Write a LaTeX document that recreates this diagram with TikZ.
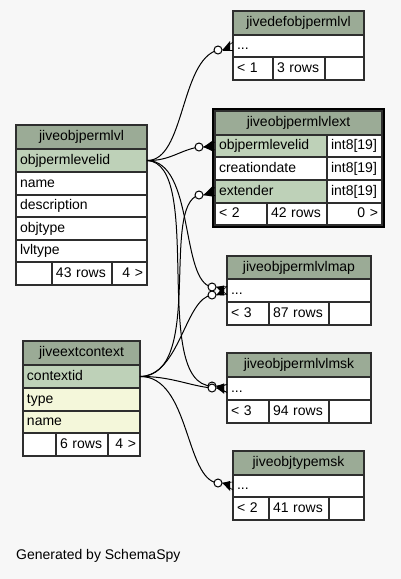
\documentclass[tikz,border=0pt]{standalone}
\usepackage{fontspec}
\setmainfont{Liberation Sans}
\usetikzlibrary{calc}
\definecolor{bg}{HTML}{F7F7F7}
\definecolor{hdr}{HTML}{9BAB96}
\definecolor{keyc}{HTML}{BED1B8}
\definecolor{nullc}{HTML}{F4F7DA}
\definecolor{linec}{HTML}{2E2E2E}
\tikzset{
  cell/.style={draw=linec, line width=1.1pt, fill=white, inner xsep=4pt, inner ysep=0pt,
    outer sep=0pt, anchor=north west, align=left, text height=10pt, text depth=3pt,
    font=\fontsize{14}{16}\selectfont},
  hcell/.style={cell, fill=hdr, align=center},
  kcell/.style={cell, fill=keyc},
  ncell/.style={cell, fill=nullc},
  rcell/.style={cell, align=right},
  edge/.style={line width=1pt, black},
  odot/.style={circle, draw=black, line width=1pt, fill=white, minimum size=8pt, inner sep=0pt},
  crowtip/.style={fill=black},
  crowline/.style={line width=0.6pt, black}
}
\newcommand\tcell[7][cell]{\pgfmathsetmacro\tw{#5-8}\node[#1, minimum width=#5pt, text width=\tw pt, minimum height=#6pt] (#2) at (#3,#4) {#7};}
\begin{document}
\begin{tikzpicture}[x=1pt,y=-1pt]
\useasboundingbox (0,0) rectangle (401,579);
\fill[bg] (0,0) rectangle (401,579);

% jivedefobjpermlvl
\tcell[hcell]{defH}{233}{11}{131}{24}{jivedefobjpermlvl}
\tcell{defR}{233}{35}{131}{22}{...}
\tcell{defF1}{233}{57}{40}{23}{< 1}
\tcell{defF2}{273}{57}{52}{23}{3 rows}
\tcell{defF3}{325}{57}{39}{23}{}

% jiveobjpermlvlext
\draw[line width=3pt, black] (213.5,109.5) rectangle (383.5,226.5);
\tcell[hcell]{extH}{215}{111}{167}{24}{jiveobjpermlvlext}
\tcell[kcell]{extR1}{215}{135}{112}{22}{objpermlevelid}
\tcell{extR1t}{327}{135}{55}{22}{int8[19]}
\tcell{extR2}{215}{157}{112}{23}{creationdate}
\tcell{extR2t}{327}{157}{55}{23}{int8[19]}
\tcell[kcell]{extR3}{215}{180}{112}{23}{extender}
\tcell{extR3t}{327}{180}{55}{23}{int8[19]}
\tcell{extF1}{215}{203}{52}{22}{< 2}
\tcell{extF2}{267}{203}{60}{22}{42 rows}
\tcell[rcell]{extF3}{327}{203}{55}{22}{0 >}

% jiveobjpermlvl
\tcell[hcell]{lvlH}{16}{125}{131}{24}{jiveobjpermlvl}
\tcell[kcell]{lvlR1}{16}{149}{131}{23}{objpermlevelid}
\tcell{lvlR2}{16}{172}{131}{23}{name}
\tcell{lvlR3}{16}{195}{131}{22}{description}
\tcell{lvlR4}{16}{217}{131}{23}{objtype}
\tcell{lvlR5}{16}{240}{131}{22}{lvltype}
\tcell{lvlF1}{16}{262}{36}{23}{}
\tcell{lvlF2}{52}{262}{60}{23}{43 rows}
\tcell[rcell]{lvlF3}{112}{262}{35}{23}{4 >}

% jiveobjpermlvlmap
\tcell[hcell]{mapH}{227}{256}{144}{23}{jiveobjpermlvlmap}
\tcell{mapR}{227}{279}{144}{23}{...}
\tcell{mapF1}{227}{302}{42}{23}{< 3}
\tcell{mapF2}{269}{302}{60}{23}{87 rows}
\tcell{mapF3}{329}{302}{42}{23}{}

% jiveextcontext
\tcell[hcell]{ctxH}{23}{341}{117}{24}{jiveextcontext}
\tcell[kcell]{ctxR1}{23}{365}{117}{23}{contextid}
\tcell[ncell]{ctxR2}{23}{388}{117}{23}{type}
\tcell[ncell]{ctxR3}{23}{411}{117}{22}{name}
\tcell{ctxF1}{23}{433}{33}{23}{}
\tcell{ctxF2}{56}{433}{52}{23}{6 rows}
\tcell[rcell]{ctxF3}{108}{433}{32}{23}{4 >}

% jiveobjpermlvlmsk
\tcell[hcell]{mskH}{227}{353}{144}{24}{jiveobjpermlvlmsk}
\tcell{mskR}{227}{377}{144}{23}{...}
\tcell{mskF1}{227}{400}{42}{23}{< 3}
\tcell{mskF2}{269}{400}{60}{23}{94 rows}
\tcell{mskF3}{329}{400}{42}{23}{}

% jiveobjtypemsk
\tcell[hcell]{typH}{233}{451}{131}{24}{jiveobjtypemsk}
\tcell{typR}{233}{475}{131}{22}{...}
\tcell{typF1}{233}{497}{36}{23}{< 2}
\tcell{typF2}{269}{497}{60}{23}{41 rows}
\tcell{typF3}{329}{497}{35}{23}{}

% connector end points (circles)
\coordinate (o1) at (218,50);
\coordinate (o2) at (199,147);
\coordinate (o3) at (212,287);
\coordinate (o4) at (212,386);
\coordinate (o5) at (199,195);
\coordinate (o6) at (212,295);
\coordinate (o7) at (212,388);
\coordinate (o8) at (218,483);

% edges
\draw[edge] (lvlR1.east) .. controls (185,161) and (180,60) .. (o1);
\draw[edge] (lvlR1.east) .. controls (170,161) and (180,150) .. (o2);
\draw[edge] (lvlR1.east) .. controls (195,161) and (180,282) .. (o3);
\draw[edge] (lvlR1.east) .. controls (205,163) and (150,385) .. (o4);
\draw[edge] (ctxR1.east) .. controls (205,376) and (160,205) .. (o5);
\draw[edge] (ctxR1.east) .. controls (180,376) and (185,298) .. (o6);
\draw[edge] (ctxR1.east) .. controls (170,376) and (190,386) .. (o7);
\draw[edge] (ctxR1.east) .. controls (190,376) and (185,480) .. (o8);

% circles and crow's feet
\foreach \o/\t in {o1/defR, o2/extR1, o3/mapR, o4/mskR, o5/extR3, o6/mapR, o7/mskR, o8/typR}{
  \node[odot] (c\o) at (\o) {};
  \fill[crowtip] (c\o.east) -- ($(\t.west)+(-3,-5)$) -- ($(\t.west)+(-3,5)$) -- cycle;
  \draw[crowline] (c\o.east) -- ($(\t.west)+(0,-4)$);
  \draw[crowline] (c\o.east) -- ($(\t.west)+(0,4)$);
}

\node[anchor=west, inner sep=0pt, font=\fontsize{14}{16}\selectfont] (gen) at (16,556) {Generated by SchemaSpy};
\end{tikzpicture}
\end{document}
